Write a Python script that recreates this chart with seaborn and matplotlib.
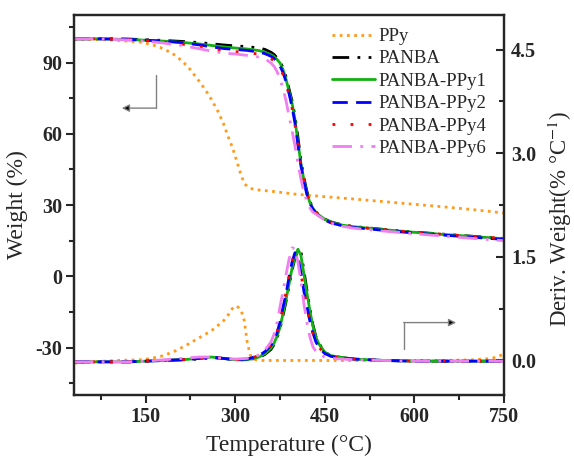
import matplotlib
matplotlib.use("Agg")
import matplotlib.pyplot as plt
import seaborn as sns
import pandas as pd

# ---- temperature grids (°C) ----
T_ppy = [30, 60, 100, 140, 160, 180, 200, 220, 240, 250, 260, 270, 280, 290, 295,
         300, 305, 310, 315, 320, 325, 330, 340, 360, 400, 450, 500, 550, 600, 650,
         700, 730, 750]
T_pb = [30, 60, 90, 120, 150, 180, 210, 240, 260, 280,
        300, 320, 340, 350, 360, 365, 370, 375, 380, 385,
        390, 395, 400, 405, 410, 415, 420, 425, 430, 435,
        440, 450, 460, 480, 500, 550, 600, 650, 700, 750]

# ---- TGA weight (%) ----
wt_ppy = [99.8, 99.7, 99.4, 98.6, 97.6, 95.8, 93.0, 88.5, 82.0, 78.5, 74.5, 70.0, 64.5,
          57.5, 54.5, 50.5, 46.5, 42.5, 39.2, 37.8, 37.1, 36.7, 36.3, 35.8, 34.6, 33.5,
          32.5, 31.4, 30.3, 29.2, 28.0, 27.2, 26.6]
wt_panba = [100.0, 100.0, 100.0, 99.9, 99.6, 99.3, 98.9, 98.4, 97.9, 97.4,
            97.0, 96.7, 96.1, 95.5, 94.3, 93.4, 92.0, 90.4, 87.8, 84.0,
            79.0, 74.0, 67.5, 58.5, 49.0, 41.5, 35.8, 31.5, 28.8, 27.1,
            25.9, 24.1, 22.9, 21.6, 20.9, 19.7, 18.6, 17.7, 16.8, 15.9]
wt_ppy1 = [100.0, 100.0, 99.9, 99.7, 99.4, 99.0, 98.5, 97.8, 97.2, 96.6,
           96.1, 95.7, 95.0, 94.3, 93.3, 92.5, 91.3, 89.8, 87.0, 83.0,
           78.0, 73.0, 66.0, 56.5, 47.5, 40.5, 35.0, 31.0, 28.6, 27.0,
           25.8, 24.0, 22.8, 21.5, 20.8, 19.6, 18.5, 17.6, 16.7, 15.8]
wt_ppy2 = [100.0, 100.0, 99.9, 99.7, 99.4, 99.0, 98.4, 97.4, 96.6, 95.9,
           95.5, 95.1, 94.4, 93.7, 92.6, 91.7, 90.3, 88.5, 85.8, 82.0,
           77.0, 71.5, 64.5, 55.5, 46.5, 39.8, 34.5, 30.7, 28.3, 26.7,
           25.5, 23.7, 22.5, 21.2, 20.5, 19.3, 18.2, 17.3, 16.4, 15.5]
wt_ppy4 = [100.0, 100.0, 99.9, 99.6, 99.2, 98.6, 97.8, 96.6, 95.7, 95.0,
           94.6, 94.2, 93.5, 92.8, 91.6, 90.7, 89.4, 87.6, 85.0, 81.3,
           76.5, 71.0, 64.0, 55.5, 46.8, 40.0, 34.8, 31.0, 28.6, 27.0,
           25.8, 24.0, 22.8, 21.5, 20.8, 19.6, 18.5, 17.6, 16.8, 15.9]
wt_ppy6 = [100.0, 100.0, 99.8, 99.5, 99.0, 98.2, 97.2, 95.8, 94.8, 94.0,
           93.6, 93.0, 92.3, 91.5, 89.8, 88.4, 86.2, 83.0, 79.0, 74.0,
           67.5, 61.5, 55.0, 47.5, 41.0, 35.5, 31.5, 28.8, 27.0, 26.2,
           25.4, 23.6, 22.4, 21.0, 20.2, 19.0, 17.9, 16.9, 15.9, 15.0]

# ---- DTG (% per °C) ----
dtg_ppy = [-0.04, -0.02, 0.0, 0.01, 0.03, 0.07, 0.14, 0.23, 0.33, 0.38, 0.43, 0.50,
           0.57, 0.68, 0.75, 0.79, 0.77, 0.72, 0.58, 0.27, 0.08, 0.02, 0.0, 0.0, 0.0,
           0.0, 0.0, 0.0, 0.0, 0.0, 0.01, 0.03, 0.09]
dtg_panba = [-0.02, -0.02, -0.02, -0.02, -0.01, 0.0, 0.01, 0.02, 0.04, 0.03,
             0.01, 0.01, 0.04, 0.09, 0.16, 0.23, 0.33, 0.46, 0.65, 0.85,
             1.07, 1.30, 1.48, 1.60, 1.58, 1.30, 1.02, 0.75, 0.52, 0.35,
             0.25, 0.12, 0.07, 0.04, 0.02, 0.0, -0.01, -0.01, -0.01, -0.01]
dtg_ppy1 = [-0.02, -0.02, -0.02, -0.02, -0.01, 0.0, 0.01, 0.03, 0.05, 0.03,
            0.01, 0.01, 0.05, 0.10, 0.18, 0.25, 0.35, 0.48, 0.68, 0.88,
            1.10, 1.33, 1.50, 1.61, 1.52, 1.25, 0.98, 0.72, 0.50, 0.34,
            0.24, 0.12, 0.07, 0.04, 0.02, 0.0, -0.01, -0.01, -0.01, -0.01]
dtg_ppy2 = [-0.02, -0.02, -0.02, -0.02, -0.01, 0.0, 0.01, 0.03, 0.05, 0.03,
            0.01, 0.02, 0.07, 0.13, 0.22, 0.30, 0.40, 0.56, 0.77, 0.96,
            1.20, 1.42, 1.56, 1.50, 1.27, 1.00, 0.78, 0.57, 0.40, 0.27,
            0.19, 0.10, 0.06, 0.03, 0.02, 0.0, -0.01, -0.01, -0.01, -0.01]
dtg_ppy4 = [-0.02, -0.02, -0.02, -0.02, -0.01, 0.0, 0.01, 0.03, 0.05, 0.03,
            0.01, 0.02, 0.07, 0.13, 0.22, 0.30, 0.41, 0.57, 0.78, 0.98,
            1.21, 1.43, 1.56, 1.49, 1.26, 1.00, 0.78, 0.57, 0.40, 0.28,
            0.19, 0.10, 0.06, 0.03, 0.02, 0.0, -0.01, -0.01, -0.01, -0.01]
dtg_ppy6 = [-0.02, -0.02, -0.02, -0.02, -0.01, 0.01, 0.03, 0.05, 0.05, 0.03,
            0.02, 0.03, 0.08, 0.15, 0.27, 0.38, 0.55, 0.78, 1.00, 1.24,
            1.46, 1.63, 1.62, 1.42, 1.15, 0.82, 0.55, 0.34, 0.20, 0.13,
            0.09, 0.05, 0.03, 0.02, 0.01, 0.0, -0.01, -0.01, -0.01, -0.01]

labels = ["PPy", "PANBA", "PANBA-PPy1", "PANBA-PPy2", "PANBA-PPy4", "PANBA-PPy6"]
temps = [T_ppy, T_pb, T_pb, T_pb, T_pb, T_pb]
weights = [wt_ppy, wt_panba, wt_ppy1, wt_ppy2, wt_ppy4, wt_ppy6]
derivs = [dtg_ppy, dtg_panba, dtg_ppy1, dtg_ppy2, dtg_ppy4, dtg_ppy6]

colors = ["#FF9A1A", "#000000", "#12B012", "#0000FF", "#FF0000", "#F080F0"]
styles = [(0, (1, 1.6)), (0, (6, 3, 1, 3, 1, 3)), "-", (0, (5.5, 3)),
          (0, (1, 5.5)), (0, (7, 3, 1, 3))]

sns.set_style("ticks")
plt.rcParams["font.family"] = ["Liberation Serif", "DejaVu Serif"]
plt.rcParams["mathtext.fontset"] = "stix"
plt.rcParams["axes.linewidth"] = 1.6

fig = plt.figure(figsize=(5.74, 4.65), dpi=100)
ax = fig.add_axes([0.1289, 0.1505, 0.7491, 0.8172])
ax2 = ax.twinx()

lw = 2.0
for lab, T, w, d, c, ls in zip(labels, temps, weights, derivs, colors, styles):
    df = pd.DataFrame({"T": T, "w": w, "d": d})
    sns.lineplot(data=df, x="T", y="w", ax=ax, color=c, linestyle=ls, lw=lw,
                 label=lab, errorbar=None)
    sns.lineplot(data=df, x="T", y="d", ax=ax2, color=c, linestyle=ls, lw=lw,
                 errorbar=None, legend=False)

ax.set_xlim(30, 750)
ax.set_ylim(-50, 110)
ax2.set_ylim(-0.5, 5.0)

tick_kw = dict(fontsize=14.5, fontweight="bold")
ax.set_xticks([150, 300, 450, 600, 750], labels=["150", "300", "450", "600", "750"], **tick_kw)
ax.set_xticks([75, 225, 375, 525, 675], minor=True)
ax.set_yticks([-30, 0, 30, 60, 90], labels=["-30", "0", "30", "60", "90"], **tick_kw)
ax.set_yticks([-45, -15, 15, 45, 75, 105], minor=True)
ax2.set_yticks([0, 1.5, 3.0, 4.5], labels=["0.0", "1.5", "3.0", "4.5"], **tick_kw)
ax2.set_yticks([0.75, 2.25, 3.75], minor=True)

ax.tick_params(axis="both", which="major", direction="out", length=5.5, width=1.5,
               pad=3, top=False, right=False)
ax.tick_params(axis="both", which="minor", direction="out", length=3.5, width=1.5,
               top=False, right=False)
ax2.tick_params(axis="y", which="major", direction="in", length=5.5, width=1.5, pad=5)
ax2.tick_params(axis="y", which="minor", direction="in", length=3.5, width=1.5)

ax.set_xlabel("Temperature (°C)", fontsize=17, labelpad=6)
ax.set_ylabel("Weight (%)", fontsize=17, labelpad=5)
ax2.set_ylabel("Deriv. Weight(% °C$^{-1}$)", fontsize=16.5)
ax2.yaxis.set_label_coords(1.098, 0.465)

# pointers linking each curve family to its axis
ax.plot([168, 168], [84.7, 70.8], color="#808080", lw=1)
ax.annotate("", xy=(110, 70.8), xytext=(168, 70.8),
            arrowprops=dict(arrowstyle="-|>", ec="#808080", fc="black", lw=1,
                            mutation_scale=11, shrinkA=0, shrinkB=0))
ax.plot([582, 582], [-30.7, -19.5], color="#808080", lw=1)
ax.annotate("", xy=(670, -19.5), xytext=(582, -19.5),
            arrowprops=dict(arrowstyle="-|>", ec="#808080", fc="black", lw=1,
                            mutation_scale=11, shrinkA=0, shrinkB=0))

ax.legend(loc="upper left", bbox_to_anchor=(0.600, 0.966), frameon=False,
          fontsize=13.5, handlelength=2.3, handletextpad=0.2, labelspacing=0.28,
          borderpad=0, borderaxespad=0)

fig.savefig("out.png", dpi=100)
